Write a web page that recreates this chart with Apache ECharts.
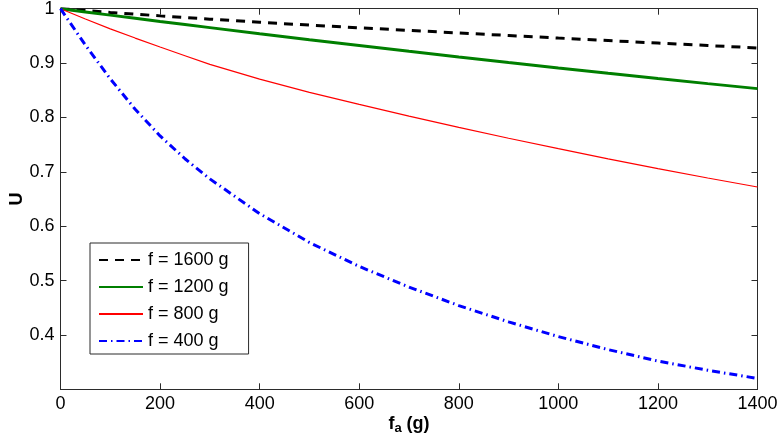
<!DOCTYPE html>
<html>
<head>
<meta charset="utf-8">
<script src="https://cdn.jsdelivr.net/npm/echarts@6/dist/echarts.min.js"></script>
<style>
html,body{margin:0;padding:0;background:#fff;}
#chart{width:782px;height:446px;}
</style>
</head>
<body>
<div id="chart"></div>
<script>
const faValues = [0, 50, 100, 150, 200, 250, 300, 400, 500, 600, 700, 800, 900, 1000, 1100, 1200, 1300, 1400];
const u1600 = [1, 0.9966, 0.9932, 0.9900, 0.9868, 0.9838, 0.9808, 0.9750, 0.9698, 0.9649, 0.9601, 0.9554, 0.9507, 0.9460, 0.9414, 0.9368, 0.9323, 0.9278];
const u1200 = [1, 0.9941, 0.9882, 0.9824, 0.9766, 0.9709, 0.9652, 0.9540, 0.9430, 0.9322, 0.9216, 0.9112, 0.9010, 0.8910, 0.8812, 0.8716, 0.8622, 0.8530];
const u800  = [1, 0.9810, 0.9630, 0.9460, 0.9295, 0.9135, 0.8975, 0.8705, 0.8462, 0.8240, 0.8025, 0.7818, 0.7618, 0.7425, 0.7238, 0.7058, 0.6886, 0.6721];
const u400  = [1, 0.933, 0.871, 0.815, 0.766, 0.724, 0.687, 0.623, 0.570, 0.526, 0.488, 0.454, 0.424, 0.397, 0.373, 0.352, 0.335, 0.320];
const seriesNames = ['f = 1600 g', 'f = 1200 g', 'f = 800 g', 'f = 400 g'];
const xTicks = [0, 200, 400, 600, 800, 1000, 1200, 1400];
const yTicks = [0.3, 0.4, 0.5, 0.6, 0.7, 0.8, 0.9, 1];

const FONT = "'Liberation Sans', Arial, Helvetica, sans-serif";
const AX = '#2b2b2b';

function pairs(ys) { return faValues.map((x, i) => [x, ys[i]]); }

const chart = echarts.init(document.getElementById('chart'), null, {renderer: 'canvas'});

const baseX = {
  type: 'value', min: xTicks[0], max: xTicks[xTicks.length - 1], interval: 200,
  axisLine: {show: true, onZero: false, lineStyle: {color: AX, width: 1}},
  axisTick: {show: true, inside: true, length: 6, lineStyle: {color: AX, width: 1}},
  splitLine: {show: false}
};
const baseY = {
  type: 'value', min: yTicks[0], max: yTicks[yTicks.length - 1], interval: 0.1,
  axisLine: {show: true, onZero: false, lineStyle: {color: AX, width: 1}},
  axisTick: {show: true, inside: true, length: 6, lineStyle: {color: AX, width: 1}},
  splitLine: {show: false}
};

const option = {
  animation: false,
  backgroundColor: '#ffffff',
  grid: {left: 60.5, right: 24.5, top: 8.7, bottom: 56.7, containLabel: false, outerBoundsMode: 'none'},
  xAxis: [
    Object.assign({}, baseX, {
      position: 'bottom',
      axisLabel: {show: true, color: '#000', fontSize: 18, fontFamily: FONT, margin: 6,
        formatter: function (v) { return String(v); }},
      name: '{b|f}{s|a}{b| (g)}',
      nameLocation: 'middle',
      nameGap: 26,
      nameMoveOverlap: false,
      nameTextStyle: {
        rich: {
          b: {fontSize: 18, fontWeight: 'bold', color: '#000', fontFamily: FONT, lineHeight: 20, verticalAlign: 'top'},
          s: {fontSize: 13, fontWeight: 'bold', color: '#000', fontFamily: FONT, lineHeight: 20, verticalAlign: 'bottom', padding: [9, 0, 0, 0]}
        }
      }
    }),
    Object.assign({}, baseX, {position: 'top', axisLabel: {show: false}})
  ],
  yAxis: [
    Object.assign({}, baseY, {
      position: 'left',
      axisLabel: {
        show: true, color: '#000', fontSize: 18, fontFamily: FONT, margin: 6,
        showMinLabel: false,
        formatter: function (v) { return Math.abs(v - 1) < 1e-9 ? '1' : (Math.abs(v - 0.3) < 1e-9 ? '' : v.toFixed(1)); }
      },
      name: 'U',
      nameLocation: 'middle',
      nameGap: 34,
      nameMoveOverlap: false,
      nameRotate: 90,
      nameTextStyle: {fontSize: 18, fontWeight: 'bold', color: '#000', fontFamily: FONT}
    }),
    Object.assign({}, baseY, {position: 'right', axisLabel: {show: false}})
  ],
  legend: {
    show: true,
    orient: 'vertical',
    left: 90,
    top: 243,
    padding: [7, 20, 3, 8],
    itemWidth: 44,
    itemHeight: 20,
    itemGap: 7,
    backgroundColor: '#ffffff',
    borderColor: AX,
    borderWidth: 1,
    borderRadius: 0,
    itemStyle: {opacity: 0, borderWidth: 0, color: 'rgba(0,0,0,0)'},
    textStyle: {fontSize: 18, color: '#000', fontFamily: FONT, lineHeight: 20},
    data: seriesNames
  },
  series: [
    {
      name: seriesNames[0], type: 'line', data: pairs(u1600), symbol: 'none',
      smooth: false,
      lineStyle: {color: '#000000', width: 3, type: [9, 7], cap: 'butt'},
      itemStyle: {color: '#000000'}
    },
    {
      name: seriesNames[1], type: 'line', data: pairs(u1200), symbol: 'none',
      smooth: false,
      lineStyle: {color: '#007f00', width: 3, type: 'solid'},
      itemStyle: {color: '#007f00'}
    },
    {
      name: seriesNames[2], type: 'line', data: pairs(u800), symbol: 'none',
      smooth: false,
      lineStyle: {color: '#ff0000', width: 1.2, type: 'solid'},
      itemStyle: {color: '#ff0000'}
    },
    {
      name: seriesNames[3], type: 'line', data: pairs(u400), symbol: 'none',
      smooth: false,
      lineStyle: {color: '#0000ff', width: 3, type: [8, 4, 1.5, 4], cap: 'butt'},
      itemStyle: {color: '#0000ff'}
    }
  ]
};
chart.setOption(option);
</script>
</body>
</html>
